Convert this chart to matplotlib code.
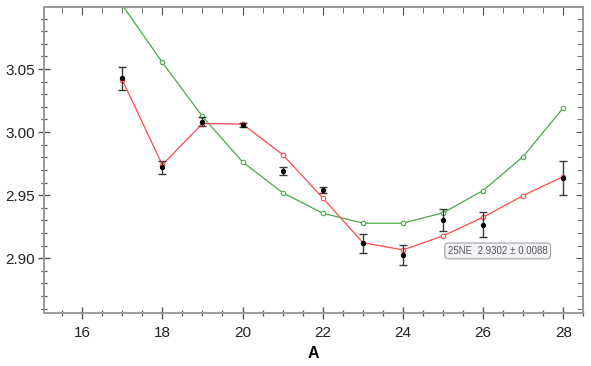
import matplotlib
matplotlib.use("Agg")
import matplotlib.pyplot as plt
from matplotlib.ticker import MultipleLocator

plt.rcParams['font.family'] = ['Liberation Sans', 'DejaVu Sans']

# measured points with error bars
x_meas = [17, 18, 19, 20, 21, 22, 23, 24, 25, 26, 28]
y_meas = [3.0425, 2.9722, 3.0082, 3.0056, 2.9690, 2.9540, 2.9119, 2.9024, 2.9302, 2.9267, 2.9637]
y_err = [0.0093, 0.0052, 0.0034, 0.0016, 0.0030, 0.0026, 0.0074, 0.0080, 0.0088, 0.0099, 0.0134]

# red fit curve
x_fit = [17, 18, 19, 20, 21, 22, 23, 24, 25, 26, 27, 28]
y_red = [3.0415, 2.9740, 3.0068, 3.0064, 2.9822, 2.9479, 2.9124, 2.9066, 2.9177, 2.9325, 2.9497, 2.9648]
# green fit curve
y_green = [3.1007, 3.0553, 3.0124, 2.9764, 2.9520, 2.9357, 2.9278, 2.9278, 2.9360, 2.9537, 2.9806, 3.0192]

fig = plt.figure(figsize=(5.91, 3.66), dpi=100)
ax = fig.add_axes([0.0745, 0.1448, 0.9125, 0.8369])

ax.plot(x_fit, y_green, color='#4aa84a', lw=0.9, marker='o', ms=3.2,
        mfc='white', mec='#4aa84a', mew=0.8, zorder=2)
ax.plot(x_fit, y_red, color='#ff4a4a', lw=0.9, marker='o', ms=3.2,
        mfc='white', mec='#ff4a4a', mew=0.8, zorder=3)
ax.errorbar(x_meas, y_meas, yerr=y_err, fmt='o', color='black', ms=2.8,
            ecolor='#3a3a3a', elinewidth=1.0, capsize=3, capthick=1.0, zorder=4)

ax.set_xlim(15.05, 28.5)
ax.set_ylim(2.8566, 3.0994)

ax.xaxis.set_major_locator(MultipleLocator(2))
ax.xaxis.set_minor_locator(MultipleLocator(0.5))
ax.yaxis.set_minor_locator(MultipleLocator(0.01))
ax.set_yticks([2.90, 2.95, 3.00, 3.05])
ax.set_yticklabels(['2.90', '2.95', '3.00', '3.05'])

for s in ax.spines.values():
    s.set_color('#9a9a9a')
    s.set_linewidth(1.4)

ax.tick_params(which='both', direction='inout', colors='#555555', labelcolor='#222222',
               labelsize=11)
ax.tick_params(which='major', length=9, width=1)
ax.tick_params(which='minor', length=5, width=0.9)
ax.tick_params(axis='x', pad=5)
ax.tick_params(axis='y', pad=2)

# inward ticks on top and right
sec_x = ax.secondary_xaxis('top')
sec_x.xaxis.set_major_locator(MultipleLocator(2))
sec_x.xaxis.set_minor_locator(MultipleLocator(0.5))
sec_x.tick_params(which='both', direction='in', labeltop=False, colors='#555555')
sec_x.tick_params(which='major', length=6)
sec_x.tick_params(which='minor', length=4)
sec_x.spines['top'].set_color('#9a9a9a')
sec_x.spines['top'].set_linewidth(1.4)
sec_y = ax.secondary_yaxis('right')
sec_y.yaxis.set_major_locator(MultipleLocator(0.05))
sec_y.yaxis.set_minor_locator(MultipleLocator(0.01))
sec_y.tick_params(which='both', direction='in', labelright=False, colors='#555555')
sec_y.tick_params(which='major', length=5)
sec_y.tick_params(which='minor', length=4)
sec_y.spines['right'].set_color('#9a9a9a')
sec_y.spines['right'].set_linewidth(1.4)

ax.set_xlabel('A', fontsize=11.5, fontweight='bold', labelpad=4)

# tooltip label for point 25
ax.text(25.12, 2.9058, '25NE  2.9302 \u00b1 0.0088', fontsize=7, color='#555555',
        ha='left', va='center',
        bbox=dict(boxstyle='round,pad=0.3', fc='#f4f4f8', ec='#a0a0a8', lw=0.8), zorder=5)

fig.savefig('out.png', dpi=100)
